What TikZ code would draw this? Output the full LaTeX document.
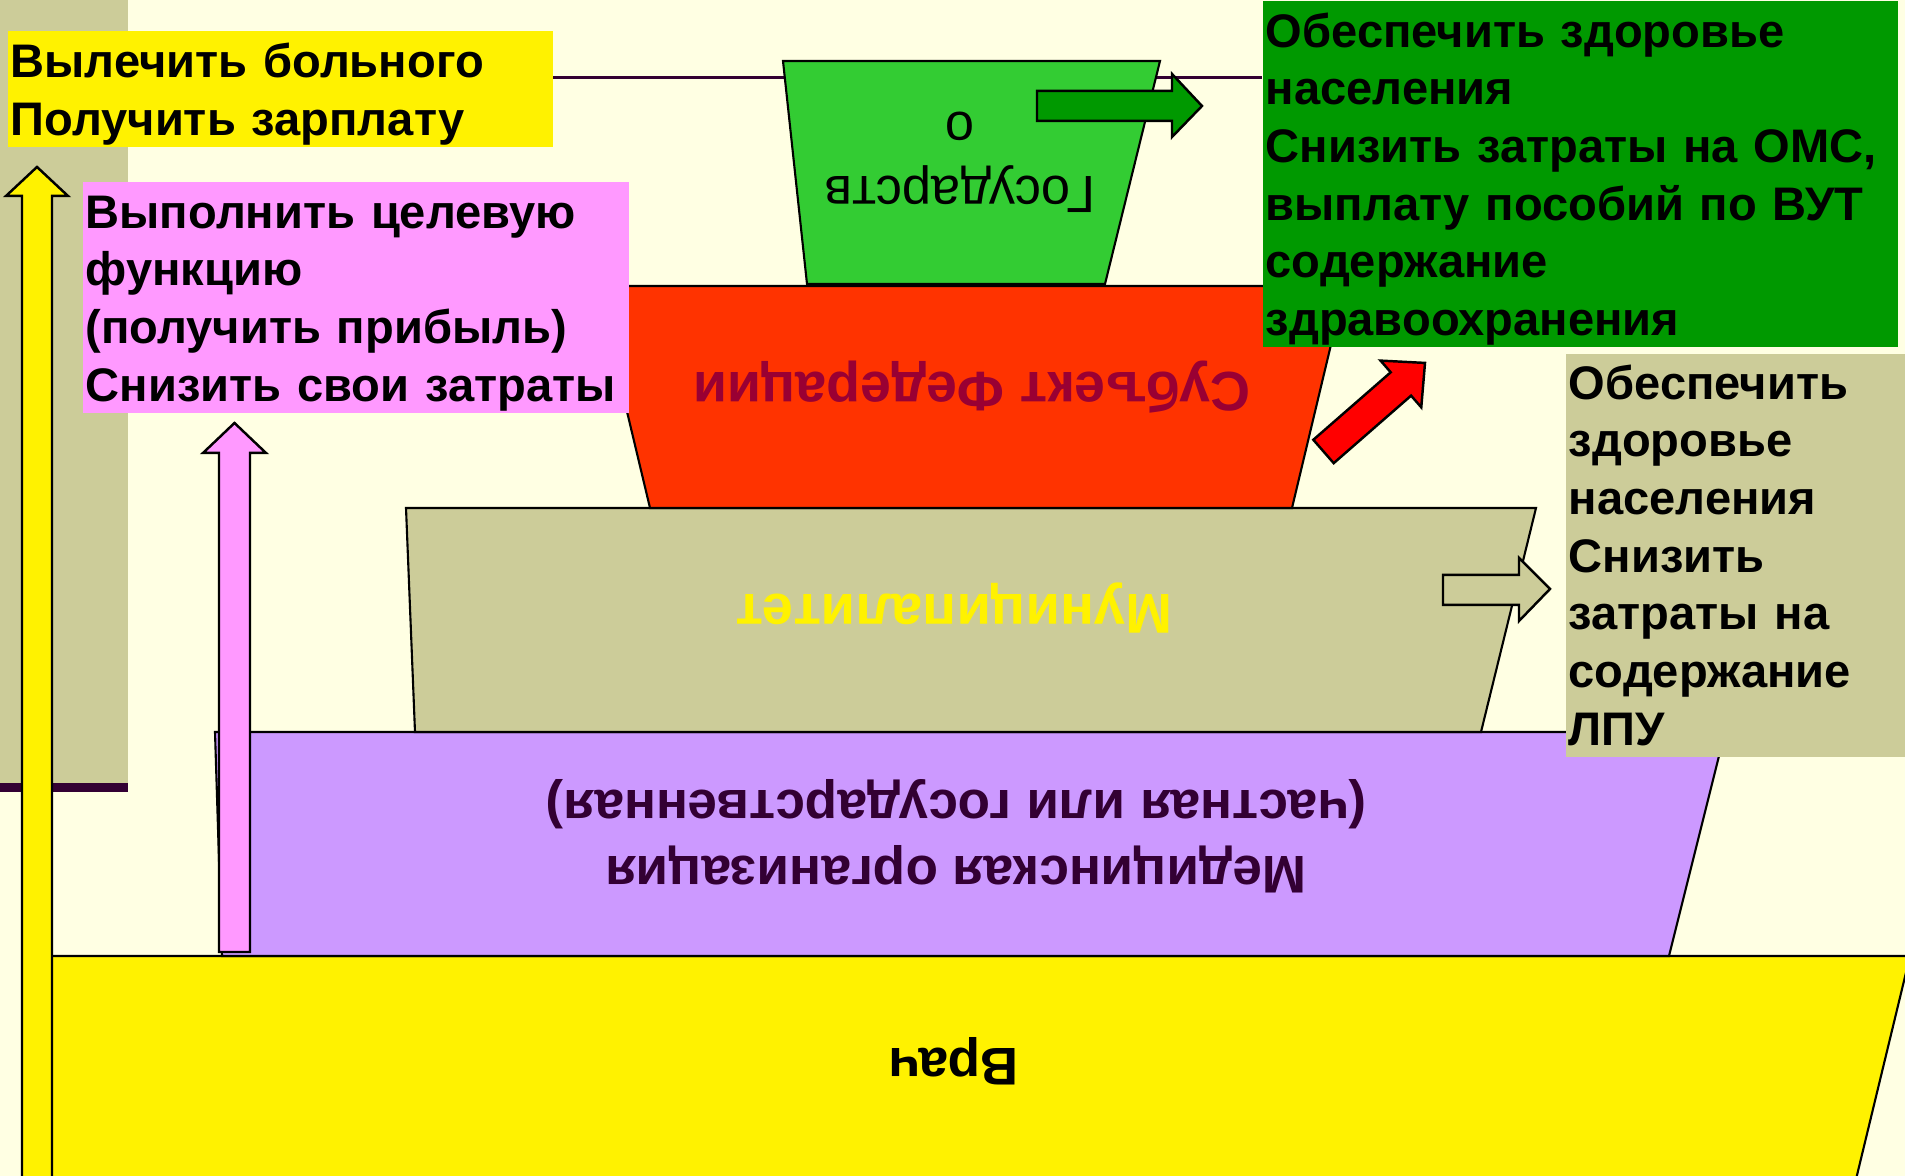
\documentclass[tikz,border=0pt]{standalone}
\usepackage{fontspec}
\setmainfont{Liberation Sans}
\definecolor{bgcream}{HTML}{FFFFE3}
\definecolor{khaki}{HTML}{CCCC99}
\definecolor{lilac}{HTML}{CC99FF}
\definecolor{pinkbox}{HTML}{FF99FF}
\definecolor{redlayer}{HTML}{FF3300}
\definecolor{greenlayer}{HTML}{33CC33}
\definecolor{darkgreen}{HTML}{009900}
\definecolor{plum}{HTML}{330033}
\definecolor{crimson}{HTML}{990033}
\begin{document}
\begin{tikzpicture}[
    layer/.style={draw=black,line width=0.6pt},
    blockarrow/.style={draw=black,line width=0.7pt},
    lbl/.style={rotate=180,align=center,inner sep=0pt,font=\bfseries\fontsize{15.1}{18.8}\selectfont},
    goalbox/.style={anchor=north west,inner xsep=0.03cm,inner ysep=0pt,align=left,
        font=\bfseries\fontsize{13.4}{16.4}\selectfont}]
    \useasboundingbox (0,0) rectangle (19.05,11.76);
    \clip (0,0) rectangle (19.05,11.76);
    \fill [bgcream] (0,0) rectangle (19.05,11.76);
    \fill [khaki] (0,3.93) rectangle (1.28,11.76);
    \fill [plum] (0,3.84) rectangle (1.28,3.93);
    \draw [plum,line width=0.9pt] (1.28,10.985) -- (12.62,10.985);
    \filldraw [layer,fill=yellow] (0.40,2.20) -- (19.10,2.20) -- (18.51,-0.24) -- (0.40,-0.24) -- cycle;
    \filldraw [layer,fill=lilac] (2.15,4.44) -- (17.25,4.44) -- (16.69,2.20) -- (2.22,2.20) -- cycle;
    \filldraw [layer,fill=khaki] (4.06,6.68) -- (15.36,6.68) -- (14.81,4.44) -- (4.15,4.44) -- cycle;
    \filldraw [layer,fill=redlayer] (5.97,8.90) -- (13.45,8.90) -- (12.92,6.68) -- (6.50,6.68) -- cycle;
    \filldraw [layer,fill=greenlayer] (7.83,11.15) -- (11.60,11.15) -- (11.05,8.92) -- (8.07,8.92) -- cycle;
    \node [lbl] (vrach) at (9.54,1.15) {Врач};
    \node [lbl,text=plum] (medorg) at (9.56,3.40) {Медицинская организация\\(частная или государственная)};
    \node [lbl,text=yellow,font=\bfseries\fontsize{16}{19}\selectfont] (muni) at (9.54,5.68) {Муниципалитет};
    \node [lbl,text=crimson,font=\bfseries\fontsize{15.8}{19}\selectfont] (subj) at (9.72,7.89) {Субъект Федерации};
    \node [lbl,font=\fontsize{14.9}{18.2}\selectfont] (gos) at (9.60,10.14) {Государств\\о};
    \filldraw [blockarrow,fill=yellow] (0.22,-0.3) -- (0.22,9.80) -- (0.06,9.80) -- (0.37,10.09)
        -- (0.68,9.80) -- (0.52,9.80) -- (0.52,-0.3) -- cycle;
    \filldraw [blockarrow,fill=pinkbox] (2.19,2.24) -- (2.19,7.23) -- (2.03,7.23) -- (2.345,7.53)
        -- (2.66,7.23) -- (2.50,7.23) -- (2.50,2.24) -- cycle;
    \filldraw [blockarrow,fill=darkgreen] (10.37,10.85) -- (11.72,10.85) -- (11.72,11.02) -- (12.02,10.70)
        -- (11.72,10.39) -- (11.72,10.55) -- (10.37,10.55) -- cycle;
    \filldraw [blockarrow,fill=khaki] (14.43,6.01) -- (15.19,6.01) -- (15.19,6.18) -- (15.50,5.87)
        -- (15.19,5.55) -- (15.19,5.71) -- (14.43,5.71) -- cycle;
    \begin{scope}[shift={(13.235,7.245)},rotate=41.1]
        \filldraw [blockarrow,fill=red] (0,-0.155) -- (1.027,-0.155) -- (1.027,-0.31) -- (1.347,0)
            -- (1.027,0.31) -- (1.027,0.155) -- (0,0.155) -- cycle;
    \end{scope}
    \node [goalbox,fill=yellow,text width=5.39cm,minimum width=5.45cm,minimum height=1.16cm] (doctorgoal)
        at (0.07,11.46) {\rule{0pt}{0.45cm}Вылечить больного\\Получить зарплату};
    \node [goalbox,fill=pinkbox,text width=5.40cm,minimum width=5.46cm,minimum height=2.31cm] (orggoal)
        at (0.82,9.95) {\rule{0pt}{0.45cm}Выполнить целевую\\функцию\\(получить прибыль)\\Снизить свои затраты};
    \node [goalbox,fill=darkgreen,text width=6.29cm,minimum width=6.35cm,minimum height=3.46cm] (stategoal)
        at (12.62,11.76) {\rule{0pt}{0.45cm}Обеспечить здоровье\\населения\\Снизить затраты на ОМС,\\выплату пособий по ВУТ\\содержание\\здравоохранения};
    \node [goalbox,fill=khaki,text width=3.34cm,minimum width=3.40cm,minimum height=4.03cm] (munigoal)
        at (15.65,8.23) {Обеспечить\\здоровье\\населения\\Снизить\\затраты на\\содержание\\ЛПУ};
\end{tikzpicture}
\end{document}
